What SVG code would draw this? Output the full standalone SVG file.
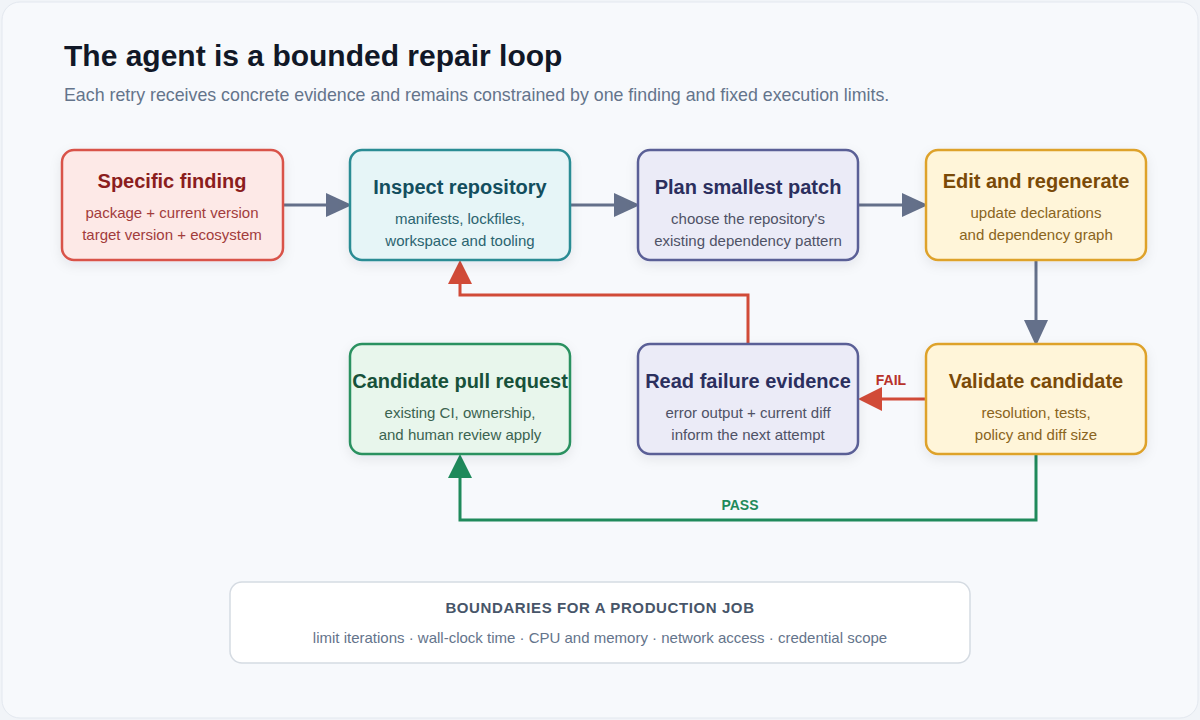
<svg xmlns="http://www.w3.org/2000/svg" width="1200" height="720" viewBox="0 0 1200 720">
<style>
text{font-family:"Liberation Sans",Arial,sans-serif}
.t{font-size:20px;font-weight:bold;text-anchor:middle}
.s{font-size:15px;text-anchor:middle}
.c{fill:none;stroke-width:3}
</style>
<defs>
<filter id="sh" x="-20%" y="-20%" width="140%" height="150%"><feDropShadow dx="0" dy="4" stdDeviation="6" flood-color="#1e293b" flood-opacity="0.08"/></filter>
</defs>
<rect x="0" y="0" width="1200" height="720" fill="#f1f4f8"/>
<rect x="2" y="2" width="1196" height="716" rx="18" fill="#f7f9fc" stroke="#e3e8ef"/>
<text x="64" y="66" font-size="30" font-weight="bold" fill="#111827">The agent is a bounded repair loop</text>
<text x="64" y="101" font-size="17.8" fill="#64748b">Each retry receives concrete evidence and remains constrained by one finding and fixed execution limits.</text>
<g id="connectors">
<path class="c" stroke="#64708a" d="M283,205H326"/>
<path d="M326,193L352,205L326,217z" fill="#64708a"/>
<path class="c" stroke="#64708a" d="M570,205H614"/>
<path d="M614,193L640,205L614,217z" fill="#64708a"/>
<path class="c" stroke="#64708a" d="M858,205H902"/>
<path d="M902,193L928,205L902,217z" fill="#64708a"/>
<path class="c" stroke="#64708a" d="M1036,260V320"/>
<path d="M1024,320L1036,346L1048,320z" fill="#64708a"/>
<path class="c" stroke="#d14b38" d="M926,399H882"/>
<path d="M882,387L858,399L882,411z" fill="#d14b38"/>
<text x="891" y="385" font-size="14" font-weight="bold" fill="#b8322a" text-anchor="middle">FAIL</text>
<path class="c" stroke="#d14b38" d="M748,344V295H460V284"/>
<path d="M448,284L460,260L472,284z" fill="#d14b38"/>
<path class="c" stroke="#1f8a5b" d="M1036,454V520H460V478"/>
<path d="M448,478L460,454L472,478z" fill="#1f8a5b"/>
<text x="740" y="510" font-size="14" font-weight="bold" fill="#1f8a5b" text-anchor="middle">PASS</text>
</g>
<g id="n1"><rect x="62" y="150" width="221" height="110" rx="12" fill="#fde9e7" stroke="#d9534a" stroke-width="2.5" filter="url(#sh)"/>
<text class="t" x="172" y="188" fill="#8b1d1d">Specific finding</text>
<text class="s" x="172" y="218" fill="#a23c3c">package + current version</text>
<text class="s" x="172" y="240" fill="#a23c3c">target version + ecosystem</text></g>
<g id="n2"><rect x="350" y="150" width="220" height="110" rx="12" fill="#e6f5f7" stroke="#2a8c94" stroke-width="2.5" filter="url(#sh)"/>
<text class="t" x="460" y="194" fill="#134e5e">Inspect repository</text>
<text class="s" x="460" y="224" fill="#2b6470">manifests, lockfiles,</text>
<text class="s" x="460" y="246" fill="#2b6470">workspace and tooling</text></g>
<g id="n3"><rect x="638" y="150" width="220" height="110" rx="12" fill="#ebebf7" stroke="#5a5f96" stroke-width="2.5" filter="url(#sh)"/>
<text class="t" x="748" y="194" fill="#2b2f5e">Plan smallest patch</text>
<text class="s" x="748" y="224" fill="#4f5266">choose the repository's</text>
<text class="s" x="748" y="246" fill="#4f5266">existing dependency pattern</text></g>
<g id="n4"><rect x="926" y="150" width="220" height="110" rx="12" fill="#fff5d9" stroke="#dea22c" stroke-width="2.5" filter="url(#sh)"/>
<text class="t" x="1036" y="188" fill="#7a4a08">Edit and regenerate</text>
<text class="s" x="1036" y="218" fill="#8a6420">update declarations</text>
<text class="s" x="1036" y="240" fill="#8a6420">and dependency graph</text></g>
<g id="n5"><rect x="926" y="344" width="220" height="110" rx="12" fill="#fff5d9" stroke="#dea22c" stroke-width="2.5" filter="url(#sh)"/>
<text class="t" x="1036" y="388" fill="#7a4a08">Validate candidate</text>
<text class="s" x="1036" y="418" fill="#8a6420">resolution, tests,</text>
<text class="s" x="1036" y="440" fill="#8a6420">policy and diff size</text></g>
<g id="n6"><rect x="638" y="344" width="220" height="110" rx="12" fill="#ebebf7" stroke="#5a5f96" stroke-width="2.5" filter="url(#sh)"/>
<text class="t" x="748" y="388" fill="#2b2f5e">Read failure evidence</text>
<text class="s" x="748" y="418" fill="#4f5266">error output + current diff</text>
<text class="s" x="748" y="440" fill="#4f5266">inform the next attempt</text></g>
<g id="n7"><rect x="350" y="344" width="220" height="110" rx="12" fill="#e8f6ec" stroke="#2a9160" stroke-width="2.5" filter="url(#sh)"/>
<text class="t" x="460" y="388" fill="#17513a">Candidate pull request</text>
<text class="s" x="460" y="418" fill="#3b6350">existing CI, ownership,</text>
<text class="s" x="460" y="440" fill="#3b6350">and human review apply</text></g>
<g id="boundaries"><rect x="230" y="582" width="740" height="81" rx="12" fill="#ffffff" stroke="#d5dbe2" stroke-width="1.5"/>
<text x="600" y="613" font-size="15" font-weight="bold" fill="#475569" text-anchor="middle" letter-spacing="0.6">BOUNDARIES FOR A PRODUCTION JOB</text>
<text x="600" y="643" font-size="15" fill="#64748b" text-anchor="middle">limit iterations · wall-clock time · CPU and memory · network access · credential scope</text></g>
</svg>
